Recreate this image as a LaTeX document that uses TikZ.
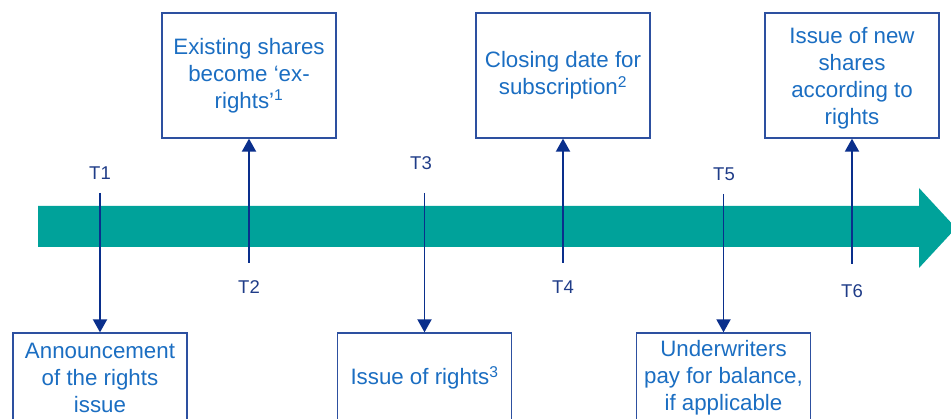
\documentclass[tikz,border=0pt]{standalone}
\usepackage{fontspec}
\setmainfont{Liberation Sans}
\usetikzlibrary{arrows.meta}
\definecolor{teal1}{RGB}{0,162,154}
\definecolor{boxtext}{RGB}{27,110,194}
\definecolor{tlabel}{RGB}{31,60,136}
\definecolor{lineblue}{RGB}{10,47,140}
\definecolor{border}{RGB}{45,80,160}
\tikzset{
  box/.style={draw=border, line width=1.3pt, fill=white, minimum width=174pt, align=center,
    text=boxtext, font=\fontsize{22.3}{27}\selectfont, inner sep=0pt},
  tlab/.style={text=tlabel, font=\fontsize{18.5}{22}\selectfont, inner sep=0pt},
  conn/.style={draw=lineblue, line width=1.9pt, -{Triangle[width=14pt,length=13pt]}},
}
\begin{document}
\begin{tikzpicture}[x=1pt,y=-1pt]
\useasboundingbox (0,0) rectangle (951,419);
\clip (0,0) rectangle (951,419);
\fill[white] (0,0) rectangle (951,419);
% main arrow
\fill[teal1] (38,206) -- (919,206) -- (919,188) -- (956,228) -- (919,268) -- (919,247) -- (38,247) -- cycle;
% top boxes
\node[box, minimum height=125pt] (b2) at (249,75.5) {Existing shares\\become ‘ex-\\rights’\textsuperscript{1}};
\node[box, minimum height=125pt] (b4) at (563,75.5) {Closing date for\\subscription\textsuperscript{2}};
\node[box, minimum height=125pt] (b6) at (852,75.5) {\rule{0pt}{22pt}Issue of new\\shares\\according to\\rights};
% bottom boxes
\node[box, minimum height=90pt] (b1) at (100,378) {Announcement\\of the rights\\issue};
\node[box, minimum height=90pt] (b3) at (424.5,378) {Issue of rights\textsuperscript{3}};
\node[box, minimum height=90pt] (b5) at (723.5,378) {Underwriters\\pay for balance,\\if applicable};
% labels
\node[tlab] (t1) at (100,173) {T1};
\node[tlab] (t2) at (249,287) {T2};
\node[tlab] (t3) at (421,163) {T3};
\node[tlab] (t4) at (563,287) {T4};
\node[tlab] (t5) at (724,174) {T5};
\node[tlab] (t6) at (852,291) {T6};
% line start points
\coordinate (s1) at (100,193);
\coordinate (s2) at (249,263);
\coordinate (s3) at (424.5,193);
\coordinate (s4) at (563,263);
\coordinate (s5) at (723.5,194);
\coordinate (s6) at (852,264);
\draw[conn] (s1) -- (b1.north);
\draw[conn] (s2) -- (b2.south);
\draw[conn] (s3) -- (b3.north);
\draw[conn] (s4) -- (b4.south);
\draw[conn] (s5) -- (b5.north);
\draw[conn] (s6) -- (b6.south);
\end{tikzpicture}
\end{document}
